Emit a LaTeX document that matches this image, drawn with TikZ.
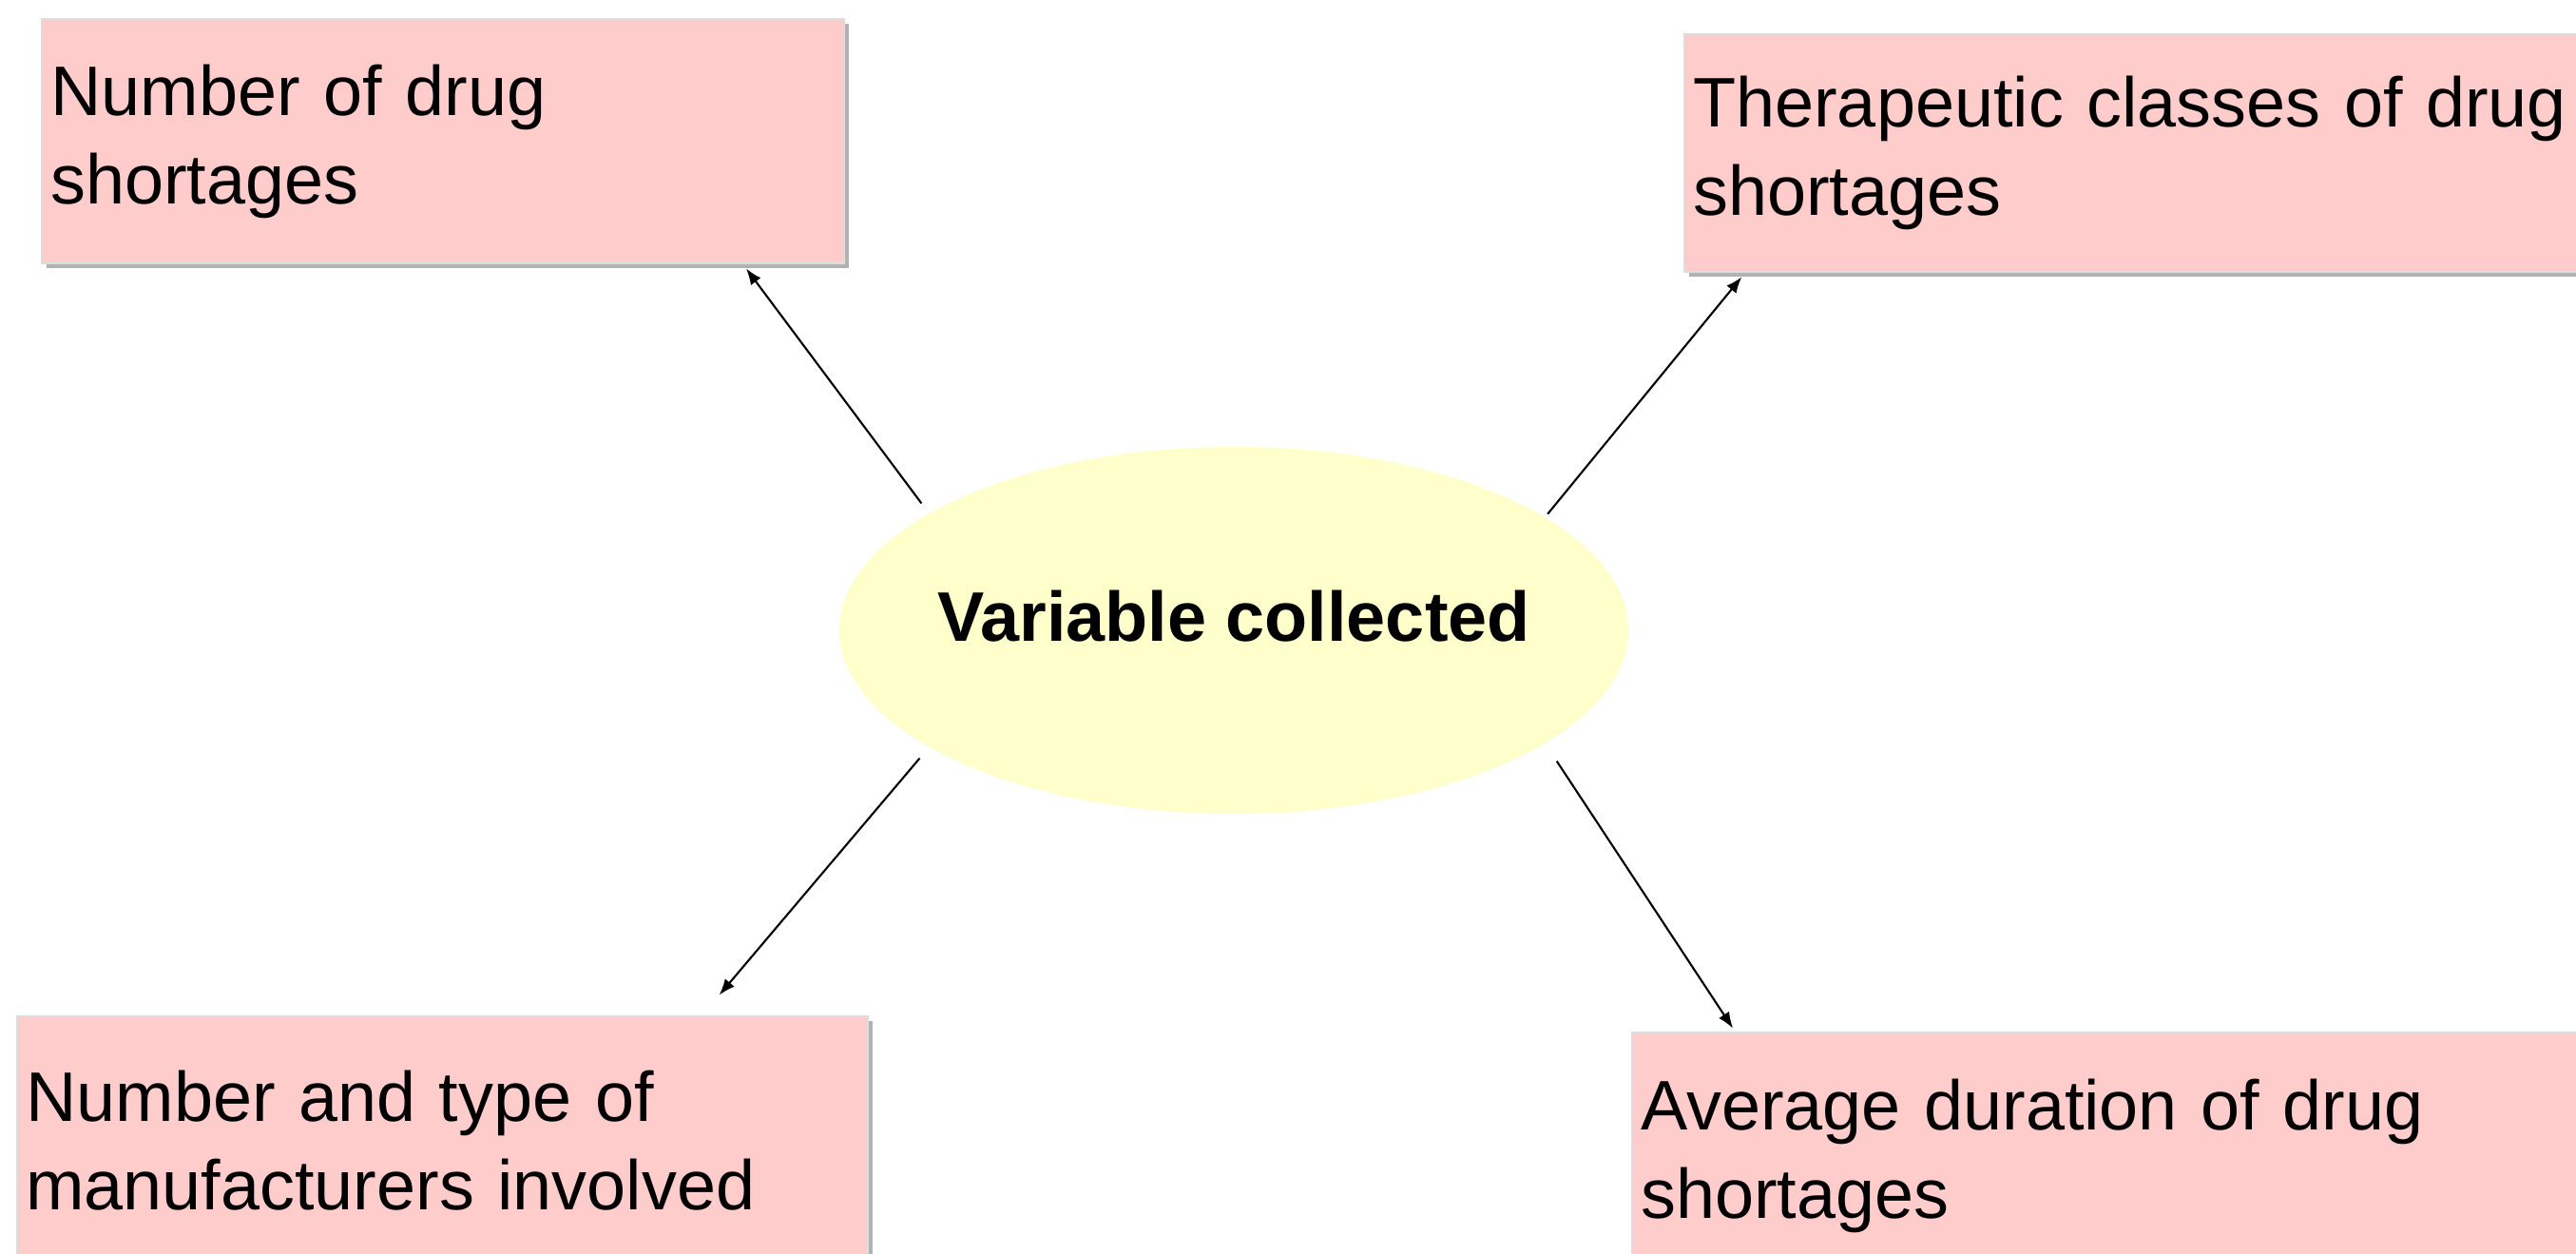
\documentclass[tikz,border=0pt]{standalone}
\usepackage{fontspec}
\setmainfont{Liberation Sans}
\usetikzlibrary{arrows.meta,shapes.geometric,shadows,calc}
\definecolor{boxpink}{RGB}{255,204,204}
\definecolor{boxline}{RGB}{221,221,221}
\definecolor{shadowgray}{RGB}{178,178,178}
\definecolor{ellyellow}{RGB}{255,255,204}
\tikzset{
	varbox/.style={rectangle,anchor=north west,fill=boxpink,draw=boxline,line width=0.7pt,align=left,inner xsep=0.09cm,inner ysep=0pt,font=\fontsize{21}{26.5}\selectfont,drop shadow={shadow xshift=0.05cm,shadow yshift=-0.05cm,fill=shadowgray,opacity=1}},
	varlink/.style={-{Latex[length=0.17cm,width=0.13cm]},line width=0.6pt}
}
\begin{document}
\begin{tikzpicture}
	\useasboundingbox (0,0) rectangle (27.10,13.19);
	\clip (0,0) rectangle (27.10,13.19);
	\node (ell) at (12.98,6.56)[ellipse,fill=ellyellow,minimum width=8.3cm,minimum height=3.86cm,inner sep=0pt] {};
	\node (lblVar) at ([yshift=0.15cm]ell.center) {\fontsize{21}{26.5}\selectfont\bfseries Variable collected};
	\node (boxA) at (0.43,13.00)[varbox,text width=8.26cm,minimum height=2.57cm] {Number of drug\\shortages};
	\node (boxB) at (17.71,12.84)[varbox,text width=9.42cm,minimum height=2.50cm] {Therapeutic classes of drug\\shortages};
	\node (boxC) at (0.17,2.51)[varbox,text width=8.77cm,minimum height=2.60cm] {Number and type of\\manufacturers involved};
	\node (boxD) at (17.16,2.34)[varbox,text width=9.82cm,minimum height=2.60cm] {Average duration of drug\\shortages};
	\draw[varlink,shorten <=0.13cm,shorten >=0.05cm] (ell.159) -- ($(boxA.south west)!0.873!(boxA.south east)$);
	\draw[varlink,shorten <=0.04cm,shorten >=0.05cm] (ell.20) -- ($(boxB.south west)!0.067!(boxB.south east)$);
	\draw[varlink,shorten <=0.15cm,shorten >=0.28cm] (ell.201) -- ($(boxC.north west)!0.804!(boxC.north east)$);
	\draw[varlink,shorten <=0.22cm,shorten >=0.04cm] (ell.340) -- ($(boxD.north west)!0.109!(boxD.north east)$);
\end{tikzpicture}
\end{document}
